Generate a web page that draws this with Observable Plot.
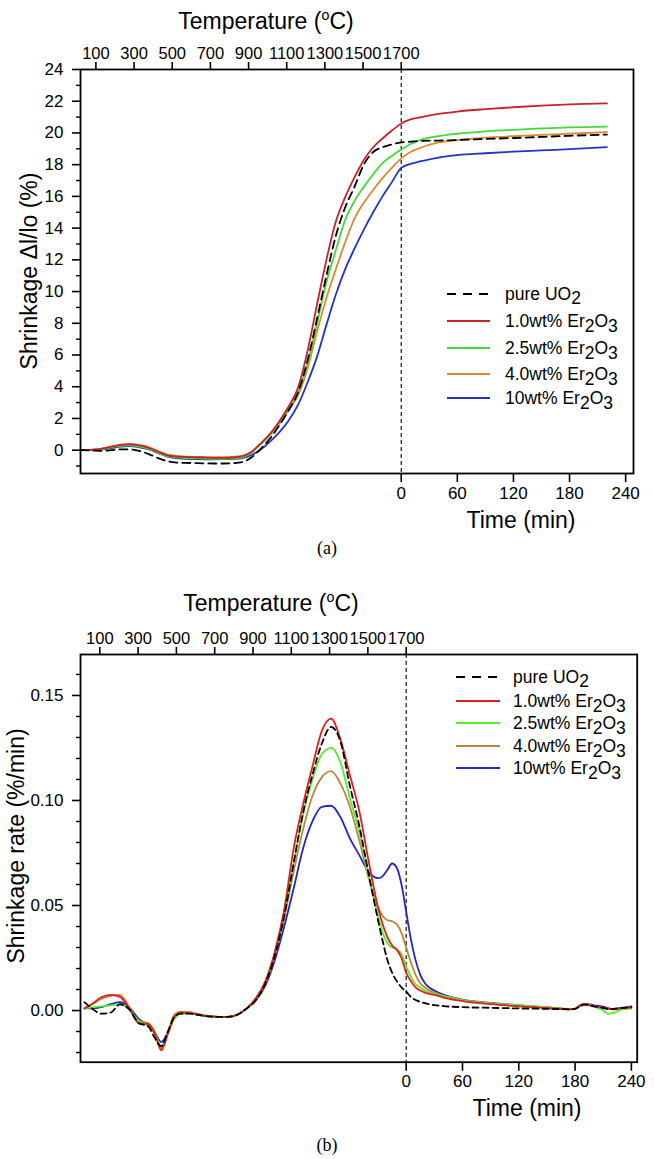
<!DOCTYPE html>
<html><head><meta charset="utf-8">
<script src="https://cdn.jsdelivr.net/npm/d3@7"></script>
<script src="https://cdn.jsdelivr.net/npm/@observablehq/plot@0.6"></script>
<style>
body{margin:0;background:#fff;width:654px;}
#a svg,#b svg{display:block}
</style></head><body><div id="a"></div><div id="b"></div>
<script>
// ---------- data ----------
const heatRate = 4.9; // °C per minute (temperature axis mapped onto time)
const tempLabels = [100,300,500,700,900,1100,1300,1500,1700];
const timeLabels = [0,60,120,180,240];
const seriesNames = ["pure UO2","1.0wt% Er2O3","2.5wt% Er2O3","4.0wt% Er2O3","10wt% Er2O3"];

// Panel (a): shrinkage (%) vs time (min, negative = heating ramp)
const timeA = [-343,-330,-320,-310,-300,-290,-280,-270,-260,-250,-240,-230,-220,-210,-200,-190,-180,-170,-160,-150,-140,-130,-120,-110,-100,-90,-80,-70,-60,-50,-40,-30,-20,-10,0,10,20,40,60,90,120,150,180,220];
const pureA = [0,-0.02,-0.05,0,0.05,0.05,-0.05,-0.25,-0.5,-0.7,-0.78,-0.8,-0.82,-0.83,-0.84,-0.84,-0.82,-0.75,-0.45,0.1,0.75,1.6,2.55,3.7,5.7,8.3,11.0,13.5,15.3,16.6,18.0,18.8,19.1,19.28,19.4,19.45,19.5,19.52,19.55,19.62,19.68,19.75,19.82,19.9];
const er10A = [0,0.03,0.1,0.22,0.33,0.36,0.3,0.15,-0.1,-0.32,-0.4,-0.43,-0.45,-0.47,-0.48,-0.48,-0.46,-0.38,-0.1,0.45,1.05,1.85,2.8,4.0,6.3,9.2,12.0,14.4,15.95,17.2,18.3,19.1,19.65,20.15,20.6,20.85,20.98,21.2,21.35,21.5,21.62,21.72,21.8,21.86];
const er25A = [0,0.02,0.08,0.18,0.28,0.3,0.22,0.08,-0.15,-0.38,-0.45,-0.5,-0.52,-0.53,-0.54,-0.54,-0.52,-0.45,-0.15,0.4,1.0,1.75,2.65,3.7,5.5,8.0,10.6,12.6,14.5,15.7,16.6,17.4,18.1,18.55,18.95,19.3,19.55,19.8,19.95,20.1,20.2,20.28,20.35,20.4];
const er40A = [0,0.03,0.1,0.22,0.35,0.4,0.33,0.2,-0.05,-0.28,-0.36,-0.4,-0.42,-0.43,-0.44,-0.44,-0.42,-0.36,-0.1,0.4,0.95,1.7,2.55,3.5,5.2,7.5,9.6,11.4,13.1,14.6,15.6,16.4,17.15,17.8,18.4,18.8,19.05,19.4,19.55,19.7,19.8,19.88,19.95,20.05];
const er100A = [0,0,0.05,0.13,0.22,0.25,0.18,0.05,-0.18,-0.4,-0.5,-0.55,-0.57,-0.58,-0.58,-0.57,-0.55,-0.5,-0.3,0.05,0.55,1.15,1.9,2.9,4.3,5.9,7.9,9.8,11.4,12.7,13.9,15.0,16.0,16.9,17.8,18.05,18.2,18.45,18.6,18.72,18.82,18.9,18.98,19.1];

// Panel (b): shrinkage rate (%/min)
const timeB = [-343,-335,-325,-315,-305,-295,-285,-275,-268,-261,-254,-247,-240,-230,-220,-210,-200,-190,-180,-170,-160,-150,-140,-130,-120,-110,-100,-90,-80,-70,-60,-50,-40,-30,-25,-20,-15,-10,-5,0,5,10,15,20,30,40,60,90,120,150,175,180,185,190,200,210,215,220,230,240];
const pureB = [0.004,0.001,-0.0015,-0.001,0.003,0.0005,-0.006,-0.0075,-0.013,-0.017,-0.01,-0.003,-0.0015,-0.0015,-0.0022,-0.0028,-0.003,-0.003,-0.002,0.001,0.005,0.013,0.026,0.045,0.07,0.094,0.112,0.127,0.135,0.128,0.107,0.088,0.065,0.043,0.033,0.024,0.018,0.014,0.011,0.009,0.0065,0.005,0.0042,0.0035,0.0026,0.0021,0.0016,0.0013,0.001,0.0008,0.0006,0.0008,0.002,0.0028,0.002,0.0012,0.0008,0.0008,0.0012,0.0015];
const er10B = [0.001,0.003,0.0063,0.0075,0.0065,0.001,-0.006,-0.0065,-0.011,-0.019,-0.011,-0.003,-0.001,-0.0012,-0.0022,-0.0028,-0.003,-0.003,-0.002,0.001,0.006,0.014,0.028,0.048,0.077,0.098,0.116,0.133,0.139,0.129,0.112,0.095,0.071,0.049,0.041,0.035,0.031,0.029,0.025,0.018,0.014,0.011,0.0095,0.0085,0.0075,0.0062,0.0045,0.003,0.002,0.0012,0.0006,0.0008,0.0022,0.003,0.0022,0.0014,0.0008,0.0006,0.0012,0.0015];
const er25B = [0.001,0.0015,0.002,0.0025,0.003,0.0005,-0.005,-0.007,-0.011,-0.017,-0.011,-0.004,-0.0015,-0.0015,-0.0022,-0.0028,-0.003,-0.003,-0.002,0.001,0.006,0.014,0.027,0.046,0.07,0.093,0.11,0.122,0.125,0.118,0.101,0.085,0.064,0.045,0.037,0.032,0.03,0.029,0.027,0.021,0.016,0.0125,0.011,0.0095,0.008,0.0068,0.005,0.0034,0.0024,0.0015,0.0008,0.0009,0.002,0.0028,0.0018,0,-0.0016,-0.0012,0.0005,0.0012];
const er40B = [0.001,0.003,0.0055,0.007,0.0075,0.0015,-0.005,-0.006,-0.01,-0.018,-0.011,-0.002,-0.0005,-0.0008,-0.0018,-0.0025,-0.003,-0.003,-0.002,0.001,0.006,0.013,0.026,0.044,0.066,0.086,0.102,0.111,0.114,0.108,0.097,0.081,0.063,0.049,0.045,0.043,0.0425,0.041,0.037,0.03,0.023,0.017,0.013,0.011,0.0085,0.007,0.005,0.0034,0.0024,0.0015,0.0007,0.0008,0.002,0.0028,0.002,0.0012,0.0008,0.0006,0.0008,0.001];
const er100B = [0.001,0.001,0.0016,0.003,0.004,0.0015,-0.004,-0.007,-0.0105,-0.015,-0.0105,-0.003,-0.001,-0.0012,-0.002,-0.0028,-0.003,-0.003,-0.002,0.001,0.005,0.012,0.024,0.04,0.058,0.077,0.09,0.097,0.0975,0.092,0.082,0.074,0.066,0.063,0.064,0.067,0.07,0.068,0.06,0.047,0.034,0.024,0.017,0.013,0.0095,0.0075,0.0052,0.0036,0.0025,0.0015,0.0006,0.0008,0.0025,0.0032,0.0025,0.0018,0.0012,0.0008,0.0012,0.002];

// ---------- styling ----------
const FONT = "'Liberation Sans', Arial, Helvetica, sans-serif";
const colorsA = ["#000000","#c8222a","#44d83a","#dc8a2c","#2233c8"];
const colorsB = ["#000000","#e01e1e","#55ec2a","#b8873a","#2424cc"];
const dashA = "8,5", dashB = "6,4";

const tempTicks = tempLabels.map(T => (T - 1700) / heatRate);
const tempFmt = d => String(Math.round(d * heatRate + 1700));

function table(times, vals) {
  return seriesNames.flatMap((s, k) => times.map((t, i) => ({series: s, k, t, v: vals[k][i]})));
}
const rowsA = table(timeA, [pureA, er10A, er25A, er40A, er100A]);
const rowsB = table(timeB, [pureB, er10B, er25B, er40B, er100B]);

function lineMarks(rows, colors, dash) {
  const order = [4,3,2,1,0];
  return order.map(k => Plot.line(rows.filter(d => d.k === k), {
    x: "t", y: "v", stroke: colors[k], strokeWidth: 1.8,
    strokeDasharray: k === 0 ? dash : null, curve: "monotone-x"
  }));
}

function rich(svg, x, y, parts, {size = 17, anchor = "start", rotate = null, family = FONT} = {}) {
  const t = svg.append("text").attr("font-family", family).attr("font-size", size)
    .attr("text-anchor", anchor).attr("fill", "black");
  if (rotate != null) t.attr("transform", `translate(${x},${y}) rotate(${rotate})`);
  else t.attr("x", x).attr("y", y);
  let cur = 0;
  for (const p of parts) {
    const [str, shift = 0, scale = 1] = Array.isArray(p) ? p : [p];
    t.append("tspan").attr("dy", shift - cur).attr("font-size", size * scale).text(str);
    cur = shift;
  }
  return t;
}
function legendParts(name) {
  if (name === "pure UO2") return ["pure UO", ["2", 4]];
  const base = name.replace("Er2O3", "Er");
  return [base, ["2", 4.5], ["O", 0], ["3", 4.5]];
}
function legend(svg, rowsY, x1, x2, xt, colors) {
  seriesNames.forEach((name, k) => {
    const y = rowsY[k];
    svg.append("line").attr("x1", x1).attr("x2", x2).attr("y1", y).attr("y2", y)
      .attr("stroke", colors[k]).attr("stroke-width", 2)
      .attr("stroke-dasharray", k === 0 ? "9,7" : null);
    rich(svg, xt, y + 6, legendParts(name), {size: 17.5});
  });
}

// ---------- panel (a) ----------
const plotA = Plot.plot({
  width: 654, height: 565,
  marginTop: 69, marginLeft: 80, marginRight: 21, marginBottom: 92,
  x: {domain: [-343, 248.4]},
  y: {domain: [-1.47, 24]},
  style: {fontFamily: FONT, fontSize: "17px", color: "black", background: "white", overflow: "visible"},
  marks: [
    Plot.ruleX([0], {strokeDasharray: "4,3", strokeWidth: 1.1}),
    ...lineMarks(rowsA, colorsA, dashA),
    Plot.frame({stroke: "black", strokeWidth: 1.8}),
    Plot.axisY(d3.range(0, 25, 2), {tickSize: 8, tickPadding: 9, strokeWidth: 1.6, fontSize: 17, label: null}),
    Plot.axisY(d3.range(-1, 24, 2), {tickSize: 4, text: null, strokeWidth: 1.4, label: null}),
    Plot.axisX(tempTicks, {anchor: "top", tickSize: 8, tickPadding: 3, strokeWidth: 1.6, fontSize: 16.5, tickFormat: tempFmt, label: null}),
    Plot.axisX(timeLabels, {anchor: "bottom", tickSize: 9, tickPadding: 4, strokeWidth: 1.6, fontSize: 17, label: null})
  ]
});
document.getElementById("a").append(plotA);
const svgA = d3.select(plotA);
rich(svgA, 266, 29, ["Temperature (", ["o", -9, 0.62], ["C)", 0]], {size: 23, anchor: "middle"});
rich(svgA, 37, 271, ["Shrinkage Δl/lo (%)"], {size: 23, anchor: "middle", rotate: -90});
rich(svgA, 521, 528, ["Time (min)"], {size: 23, anchor: "middle"});
rich(svgA, 327, 554, ["(a)"], {size: 18, anchor: "middle", family: "'Liberation Serif', 'Times New Roman', serif"});
legend(svgA, [294, 321, 348, 374, 398], 447, 490, 505, colorsA);

// ---------- panel (b) ----------
const plotB = Plot.plot({
  width: 654, height: 594,
  marginTop: 89, marginLeft: 80, marginRight: 17.3, marginBottom: 97.3,
  x: {domain: [-347.1, 246.2]},
  y: {domain: [-0.0246, 0.1695]},
  style: {fontFamily: FONT, fontSize: "17px", color: "black", background: "white", overflow: "visible"},
  marks: [
    Plot.ruleX([0], {strokeDasharray: "4,3", strokeWidth: 1.1}),
    ...lineMarks(rowsB, colorsB, dashB),
    Plot.frame({stroke: "black", strokeWidth: 1.8}),
    Plot.axisY([0, 0.05, 0.10, 0.15], {tickSize: 8, tickPadding: 9, strokeWidth: 1.6, fontSize: 17, tickFormat: d3.format(".2f"), label: null}),
    Plot.axisY(d3.range(-2, 17).filter(k => k % 5 !== 0).map(k => k / 100), {tickSize: 4, text: null, strokeWidth: 1.4, label: null}),
    Plot.axisX(tempTicks, {anchor: "top", tickSize: 8, tickPadding: 3, strokeWidth: 1.6, fontSize: 16.5, tickFormat: tempFmt, label: null}),
    Plot.axisX(timeLabels, {anchor: "bottom", tickSize: 9, tickPadding: 4, strokeWidth: 1.6, fontSize: 17, label: null})
  ]
});
document.getElementById("b").append(plotB);
const svgB = d3.select(plotB);
rich(svgB, 271, 46, ["Temperature (", ["o", -9, 0.62], ["C)", 0]], {size: 23, anchor: "middle"});
rich(svgB, 24, 281, ["Shrinkage rate (%/min)"], {size: 23, anchor: "middle", rotate: -90});
rich(svgB, 527, 551, ["Time (min)"], {size: 23, anchor: "middle"});
rich(svgB, 327, 586, ["(b)"], {size: 18, anchor: "middle", family: "'Liberation Serif', 'Times New Roman', serif"});
legend(svgB, [112, 136, 158, 181, 203], 456, 500, 513, colorsB);
</script>
</body></html>
